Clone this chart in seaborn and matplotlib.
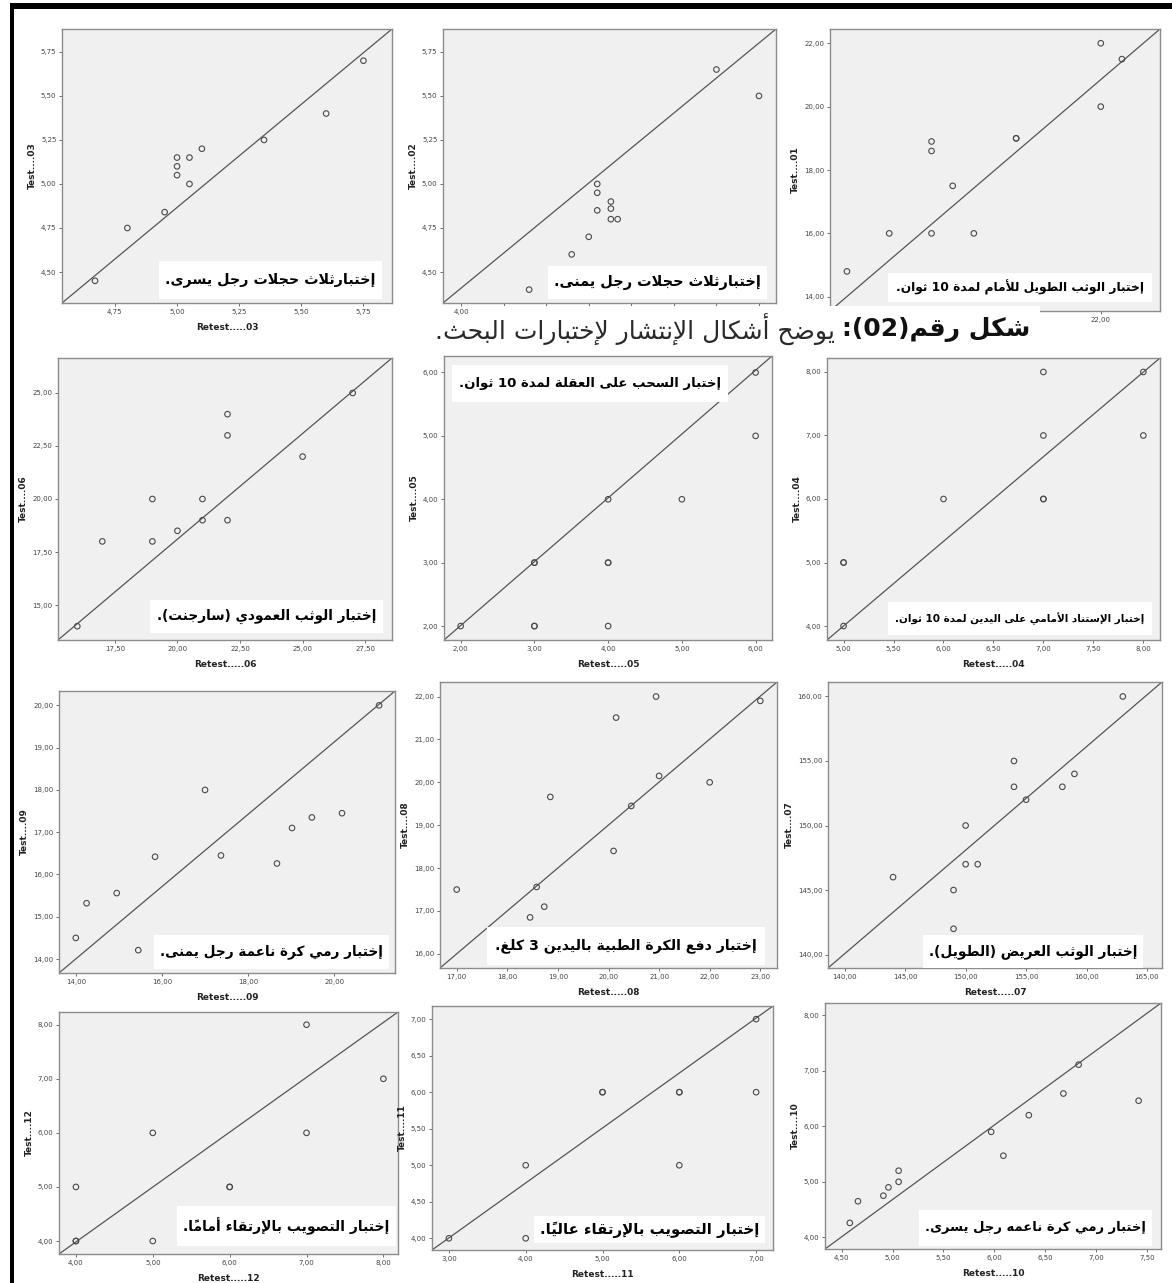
import matplotlib
matplotlib.use('Agg')
import matplotlib.pyplot as plt
from matplotlib.patches import Rectangle
from matplotlib.ticker import MultipleLocator, FuncFormatter
import seaborn as sns

# --- data (retest on x, test on y) ---
retest_03 = [4.67, 4.80, 4.95, 5.00, 5.00, 5.00, 5.05, 5.05, 5.10, 5.35, 5.60, 5.75]
test_03 = [4.45, 4.75, 4.84, 5.15, 5.10, 5.05, 5.15, 5.00, 5.20, 5.25, 5.40, 5.70]
retest_02 = [4.40, 4.65, 4.75, 4.80, 4.80, 4.80, 4.88, 4.88, 4.88, 4.92, 5.50, 5.75]
test_02 = [4.40, 4.60, 4.70, 5.00, 4.95, 4.85, 4.90, 4.86, 4.80, 4.80, 5.65, 5.50]
retest_01 = [16.0, 17.0, 18.0, 18.0, 18.0, 18.5, 19.0, 20.0, 20.0, 22.0, 22.0, 22.5]
test_01 = [14.8, 16.0, 18.9, 18.6, 16.0, 17.5, 16.0, 19.0, 19.0, 22.0, 20.0, 21.5]
retest_06 = [16, 17, 19, 19, 20, 21, 21, 22, 22, 22, 25, 27]
test_06 = [14, 18, 20, 18, 18.5, 20, 19, 24, 23, 19, 22, 25]
retest_05 = [2, 3, 3, 3, 3, 4, 4, 4, 4, 5, 6, 6]
test_05 = [2, 3, 3, 2, 2, 4, 3, 3, 2, 4, 6, 5]
retest_04 = [5, 5, 5, 6, 7, 7, 7, 7, 8, 8]
test_04 = [4, 5, 5, 6, 8, 7, 6, 6, 8, 7]
retest_09 = [14.0, 14.25, 14.95, 15.45, 15.84, 17.0, 17.37, 18.67, 19.02, 19.48, 20.18, 21.04]
test_09 = [14.5, 15.32, 15.56, 14.21, 16.42, 18.0, 16.45, 16.26, 17.10, 17.35, 17.45, 20.0]
retest_08 = [17.0, 18.45, 18.58, 18.73, 18.85, 20.10, 20.15, 20.45, 20.94, 21.0, 22.0, 23.0]
test_08 = [17.5, 16.85, 17.56, 17.10, 19.66, 18.4, 21.51, 19.45, 22.0, 20.15, 20.0, 21.9]
retest_07 = [144, 149, 149, 150, 150, 151, 154, 154, 155, 158, 159, 163]
test_07 = [146, 145, 142, 150, 147, 147, 155, 153, 152, 153, 154, 160]
retest_12 = [4, 4, 4, 5, 5, 6, 6, 7, 7, 8]
test_12 = [4, 4, 5, 6, 4, 5, 5, 8, 6, 7]
retest_11 = [3, 4, 4, 5, 5, 6, 6, 6, 7, 7]
test_11 = [4, 5, 4, 6, 6, 6, 6, 5, 7, 6]
retest_10 = [4.58, 4.66, 4.91, 4.96, 5.06, 5.06, 5.97, 6.09, 6.34, 6.68, 6.83, 7.42]
test_10 = [4.26, 4.65, 4.75, 4.90, 5.00, 5.20, 5.90, 5.47, 6.20, 6.59, 7.11, 6.46]

test_names = [
    "إختبارثلاث حجلات رجل يسرى.",
    "إختبارثلاث حجلات رجل يمنى.",
    "إختبار الوثب الطويل للأمام لمدة 10 ثوان.",
    "إختبار الوثب العمودي (سارجنت).",
    "إختبار السحب على العقلة لمدة 10 ثوان.",
    "إختبار الإستناد الأمامي على اليدين لمدة 10 ثوان.",
    "إختبار رمي كرة ناعمة رجل يمنى.",
    "إختبار دفع الكرة الطبية باليدين 3 كلغ.",
    "إختبار الوثب العريض (الطويل).",
    "إختبار التصويب بالإرتقاء أماماً.",
    "إختبار التصويب بالإرتقاء عالياً.",
    "إختبار رمي كرة ناعمه رجل يسرى.",
]
caption_bold = "شكل رقم(02):"
caption_rest = "يوضح أشكال الإنتشار لإختبارات البحث."

# --- minimal arabic shaping (presentation forms + visual order) ---
AR_FORMS = {
    'ء': (0xFE80, 1), 'آ': (0xFE81, 2), 'أ': (0xFE83, 2), 'ؤ': (0xFE85, 2), 'إ': (0xFE87, 2),
    'ئ': (0xFE89, 4), 'ا': (0xFE8D, 2), 'ب': (0xFE8F, 4), 'ة': (0xFE93, 2), 'ت': (0xFE95, 4),
    'ث': (0xFE99, 4), 'ج': (0xFE9D, 4), 'ح': (0xFEA1, 4), 'خ': (0xFEA5, 4), 'د': (0xFEA9, 2),
    'ذ': (0xFEAB, 2), 'ر': (0xFEAD, 2), 'ز': (0xFEAF, 2), 'س': (0xFEB1, 4), 'ش': (0xFEB5, 4),
    'ص': (0xFEB9, 4), 'ض': (0xFEBD, 4), 'ط': (0xFEC1, 4), 'ظ': (0xFEC5, 4), 'ع': (0xFEC9, 4),
    'غ': (0xFECD, 4), 'ف': (0xFED1, 4), 'ق': (0xFED5, 4), 'ك': (0xFED9, 4), 'ل': (0xFEDD, 4),
    'م': (0xFEE1, 4), 'ن': (0xFEE5, 4), 'ه': (0xFEE9, 4), 'و': (0xFEED, 2), 'ى': (0xFEEF, 2),
    'ي': (0xFEF1, 4),
}
LAM_ALEF = {'آ': 0xFEF5, 'أ': 0xFEF7, 'إ': 0xFEF9, 'ا': 0xFEFB}
MARKS = set('\u064B\u064C\u064D\u064E\u064F\u0650\u0651\u0652')


def shape(text):
    clusters = []
    for c in text:
        if c in MARKS and clusters:
            clusters[-1][1].append(c)
        else:
            clusters.append([c, []])
    merged = []
    i = 0
    while i < len(clusters):
        b, m = clusters[i]
        if b == 'ل' and i + 1 < len(clusters) and clusters[i + 1][0] in LAM_ALEF:
            merged.append(['LA' + clusters[i + 1][0], m + clusters[i + 1][1]])
            i += 2
        else:
            merged.append([b, m])
            i += 1

    def is_letter(b):
        return b in AR_FORMS or b.startswith('LA')

    def joins_next(b):
        return b in AR_FORMS and AR_FORMS[b][1] == 4

    out = []
    for k, (b, m) in enumerate(merged):
        pj = k > 0 and joins_next(merged[k - 1][0]) and is_letter(b)
        nj = k + 1 < len(merged) and is_letter(merged[k + 1][0]) and joins_next(b)
        if b.startswith('LA'):
            g = chr(LAM_ALEF[b[2]] + (1 if pj else 0))
        elif b in AR_FORMS:
            base, n = AR_FORMS[b]
            if n == 1:
                g = chr(base)
            elif n == 2:
                g = chr(base + (1 if pj else 0))
            else:
                g = chr(base + {(False, False): 0, (True, False): 1,
                                (False, True): 2, (True, True): 3}[(pj, nj)])
        else:
            g = b
        out.append(g + ''.join(m))
    tokens = []
    for g in out:
        if g[0].isdigit() and tokens and tokens[-1][0].isdigit():
            tokens[-1] += g
        else:
            tokens.append(g)
    tokens.reverse()
    mirror = {'(': ')', ')': '('}
    return ''.join(mirror.get(t, t) for t in tokens)


sns.set_style('white')
plt.rcParams['font.family'] = ['DejaVu Sans']

W, H = 1172, 1283
fig = plt.figure(figsize=(W / 100, H / 100), dpi=100)
fig.patch.set_facecolor('white')

# white strip holding the figure caption (pixels: left, top, right, bottom)
strip = (468, 306, 1040, 346)


def fig_rect(x0, y0, x1, y1):
    return [x0 / W, 1 - y1 / H, (x1 - x0) / W, (y1 - y0) / H]


def comma(v, pos):
    return f"{v:.2f}".replace('.', ',')


renderer = fig.canvas.get_renderer()


def label_box(x0, y0, x1, y1, s, size=14, weight='bold'):
    fig.add_artist(Rectangle((x0 / W, 1 - y1 / H), (x1 - x0) / W, (y1 - y0) / H,
                             transform=fig.transFigure, fc='white', ec='none', zorder=5))
    t = fig.text((x0 + x1) / 2 / W, 1 - (y0 + y1) / 2 / H, shape(s), ha='center', va='center',
                 fontsize=size, fontweight=weight, color='black', zorder=6)
    bb = t.get_window_extent(renderer)
    wmax = (x1 - x0) * 0.95
    if bb.width > wmax:
        t.set_fontsize(size * wmax / bb.width)


# layout: (retest, test, number, axes px rect, xlim, ylim, xstep, ystep, label px rect)
panels = [
    (retest_03, test_03, '03', (62, 29, 392, 303), (4.537, 5.865), (4.324, 5.88), 0.25, 0.25, (159, 261, 382, 299)),
    (retest_02, test_02, '02', (443, 29, 776, 303), (3.894, 5.85), (4.324, 5.88), 0.25, 0.25, (548, 266, 767, 299)),
    (retest_01, test_01, '01', (830, 29, 1160, 311), (15.6, 23.4), (13.55, 22.45), 2, 2, (888, 273, 1152, 302)),
    (retest_06, test_06, '06', (58, 358, 392, 640), (15.23, 28.57), (13.35, 26.65), 2.5, 2.5, (150, 600, 383, 633)),
    (retest_05, test_05, '05', (444, 356, 772, 640), (1.774, 6.222), (1.78, 6.26), 1, 1, (452, 365, 728, 402)),
    (retest_04, test_04, '04', (827, 358, 1160, 640), (4.834, 8.167), (3.78, 8.22), 0.5, 1, (888, 602, 1152, 635)),
    (retest_09, test_09, '09', (59, 691, 395, 973), (13.61, 21.41), (13.67, 20.34), 2, 1, (154, 935, 389, 969)),
    (retest_08, test_08, '08', (440, 682, 777, 968), (16.67, 23.33), (15.67, 22.34), 1, 1, (487, 927, 765, 965)),
    (retest_07, test_07, '07', (828, 682, 1162, 968), (138.62, 166.24), (138.96, 161.12), 5, 5, (923, 935, 1143, 968)),
    (retest_12, test_12, '12', (59, 1012, 398, 1254), (3.78, 8.19), (3.76, 8.235), 1, 1, (177, 1206, 396, 1246)),
    (retest_11, test_11, '11', (432, 1006, 773, 1250), (2.78, 7.22), (3.84, 7.18), 1, 0.5, (534, 1216, 765, 1243)),
    (retest_10, test_10, '10', (825, 1003, 1161, 1249), (4.336, 7.64), (3.79, 8.22), 0.5, 1, (919, 1210, 1152, 1246)),
]

for (rx, ty, num, px, xl, yl, xs, ys, lb), name in zip(panels, test_names):
    ax = fig.add_axes(fig_rect(*px))
    ax.set_facecolor('#f0f0f0')
    ax.plot([0, 1], [0, 1], transform=ax.transAxes, color='#555555', lw=0.9, zorder=2)
    sns.scatterplot(x=rx, y=ty, ax=ax, marker='o', s=16, facecolor='none',
                    edgecolor='#4a4a4a', linewidth=0.8, zorder=3)
    ax.set_xlim(*xl)
    ax.set_ylim(*yl)
    ax.xaxis.set_major_locator(MultipleLocator(xs))
    ax.yaxis.set_major_locator(MultipleLocator(ys))
    ax.xaxis.set_major_formatter(FuncFormatter(comma))
    ax.yaxis.set_major_formatter(FuncFormatter(comma))
    ax.tick_params(labelsize=5, length=2.5, width=0.6, color='#555555',
                   labelcolor='#444444', pad=1.5, left=True, bottom=True)
    for sp in ax.spines.values():
        sp.set_color('#8c8c8c')
        sp.set_linewidth(1.0)
    ax.set_ylabel('Test....' + num, fontsize=6.5, fontweight='bold', color='#222222', labelpad=3)
    if px[3] < strip[1] + 10:
        # first row, x axis partly hidden under the caption strip
        fig.canvas.draw()
        for lab in ax.get_xticklabels():
            bbx = lab.get_window_extent(renderer)
            cx = (bbx.x0 + bbx.x1) / 2
            if strip[0] - 4 < cx < strip[2]:
                lab.set_visible(False)
        if (px[0] + px[2]) / 2 < strip[0] or (px[0] + px[2]) / 2 > strip[2]:
            ax.set_xlabel('Retest.....' + num, fontsize=6.5, fontweight='bold', color='#222222', labelpad=6)
    else:
        ax.set_xlabel('Retest.....' + num, fontsize=6.5, fontweight='bold', color='#222222', labelpad=6)
    label_box(*lb, name)

# figure caption on a white strip over the first row's x axes
fig.add_artist(Rectangle((strip[0] / W, 1 - strip[3] / H), (strip[2] - strip[0]) / W,
                         (strip[3] - strip[1]) / H,
                         transform=fig.transFigure, fc='white', ec='none', zorder=5))
cb = fig.text(1030 / W, 1 - 329 / H, shape(caption_bold), ha='right', va='center',
              fontsize=18, fontweight='bold', color='#111111', zorder=6)
bb = cb.get_window_extent(renderer)
cr = fig.text((bb.x0 - 7) / W, 1 - 329 / H, shape(caption_rest), ha='right', va='center',
              fontsize=19, color='#2a2a2a', zorder=6)
rb = cr.get_window_extent(renderer)
target = (bb.x0 - 7) - 434
cr.set_fontsize(19 * target / rb.width)

# thick black frame at the top and left edge
fig.add_artist(Rectangle((10 / W, 1 - 9 / H), (W - 10) / W, 6 / H,
                         transform=fig.transFigure, fc='black', ec='none', zorder=7))
fig.add_artist(Rectangle((10 / W, 0), 4 / W, 1 - 3 / H,
                         transform=fig.transFigure, fc='black', ec='none', zorder=7))

fig.savefig('out.png', dpi=100)
